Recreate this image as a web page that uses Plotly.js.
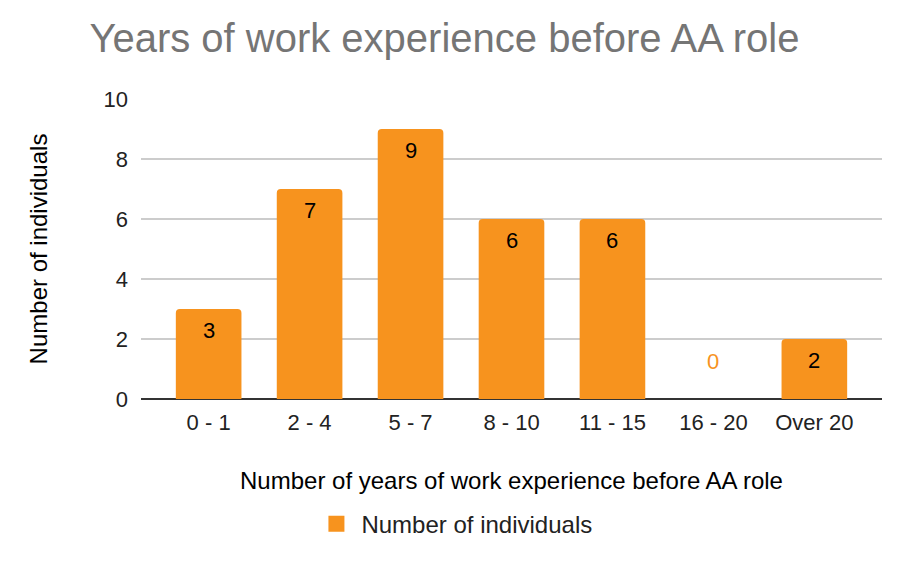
<!DOCTYPE html>
<html>
<head>
<meta charset="utf-8">
<script src="https://cdn.plot.ly/plotly-3.0.1.min.js"></script>
<style>html,body{margin:0;padding:0;background:#fff;}#chart{width:912px;height:566px;}</style>
</head>
<body>
<div id="chart"></div>
<script>
const categories = ["0 - 1", "2 - 4", "5 - 7", "8 - 10", "11 - 15", "16 - 20", "Over 20"];
const values = [3, 7, 9, 6, 6, 0, 2];
const yTicks = [0, 2, 4, 6, 8, 10];
const seriesName = "Number of individuals";
const titleText = "Years of work experience before AA role";
const xTitle = "Number of years of work experience before AA role";
const yTitle = "Number of individuals";

const orange = "#F7931E";
const font = "Liberation Sans, Arial, sans-serif";

const annotations = categories.map((c, i) => ({
  x: c, y: values[i], xref: "x", yref: "y",
  text: String(values[i]), showarrow: false,
  yanchor: "middle",
  yshift: values[i] === 0 ? 38 : -21,
  font: {family: font, size: 22, color: values[i] === 0 ? orange : "#000"}
}));

const traces = [
  {
    type: "bar", x: categories, y: values, name: seriesName,
    marker: {color: orange, cornerradius: 4},
    showlegend: false, hoverinfo: "skip"
  },
  {
    type: "scatter", mode: "markers", x: [categories[0]], y: [null],
    name: seriesName,
    marker: {symbol: "square", color: orange, size: 24}
  }
];

const layout = {
  width: 912, height: 566,
  margin: {l: 141, r: 30, t: 99, b: 167},
  paper_bgcolor: "#fff", plot_bgcolor: "#fff",
  bargap: 0.35,
  title: {text: titleText, x: 0.098, xanchor: "left", y: 0.932, yanchor: "middle",
          font: {family: font, size: 40, color: "#757575"}},
  xaxis: {
    type: "category", range: [-0.67, 6.67],
    showgrid: false, zeroline: false, showline: false,
    ticks: "", ticklabelstandoff: 8, tickfont: {family: font, size: 22, color: "#222"},
    title: {text: xTitle, font: {family: font, size: 24, color: "#000"}, standoff: 38}
  },
  yaxis: {
    range: [0, 10], tickvals: yTicks, ticktext: yTicks.map(String),
    showgrid: true, gridcolor: "#cccccc", gridwidth: 1.5,
    zeroline: true, zerolinecolor: "#333333", zerolinewidth: 2,
    ticks: "", ticklabelstandoff: 12, tickfont: {family: font, size: 22, color: "#222"},
    title: {text: yTitle, font: {family: font, size: 24, color: "#000"}, standoff: 49}
  },
  showlegend: true,
  legend: {orientation: "h", x: 0.230, xanchor: "left", y: -0.417, yanchor: "middle",
           font: {family: font, size: 24, color: "#222"}, itemsizing: "trace", itemwidth: 40},
  annotations: annotations
};

Plotly.newPlot("chart", traces, layout, {displayModeBar: false, staticPlot: true});
</script>
</body>
</html>
